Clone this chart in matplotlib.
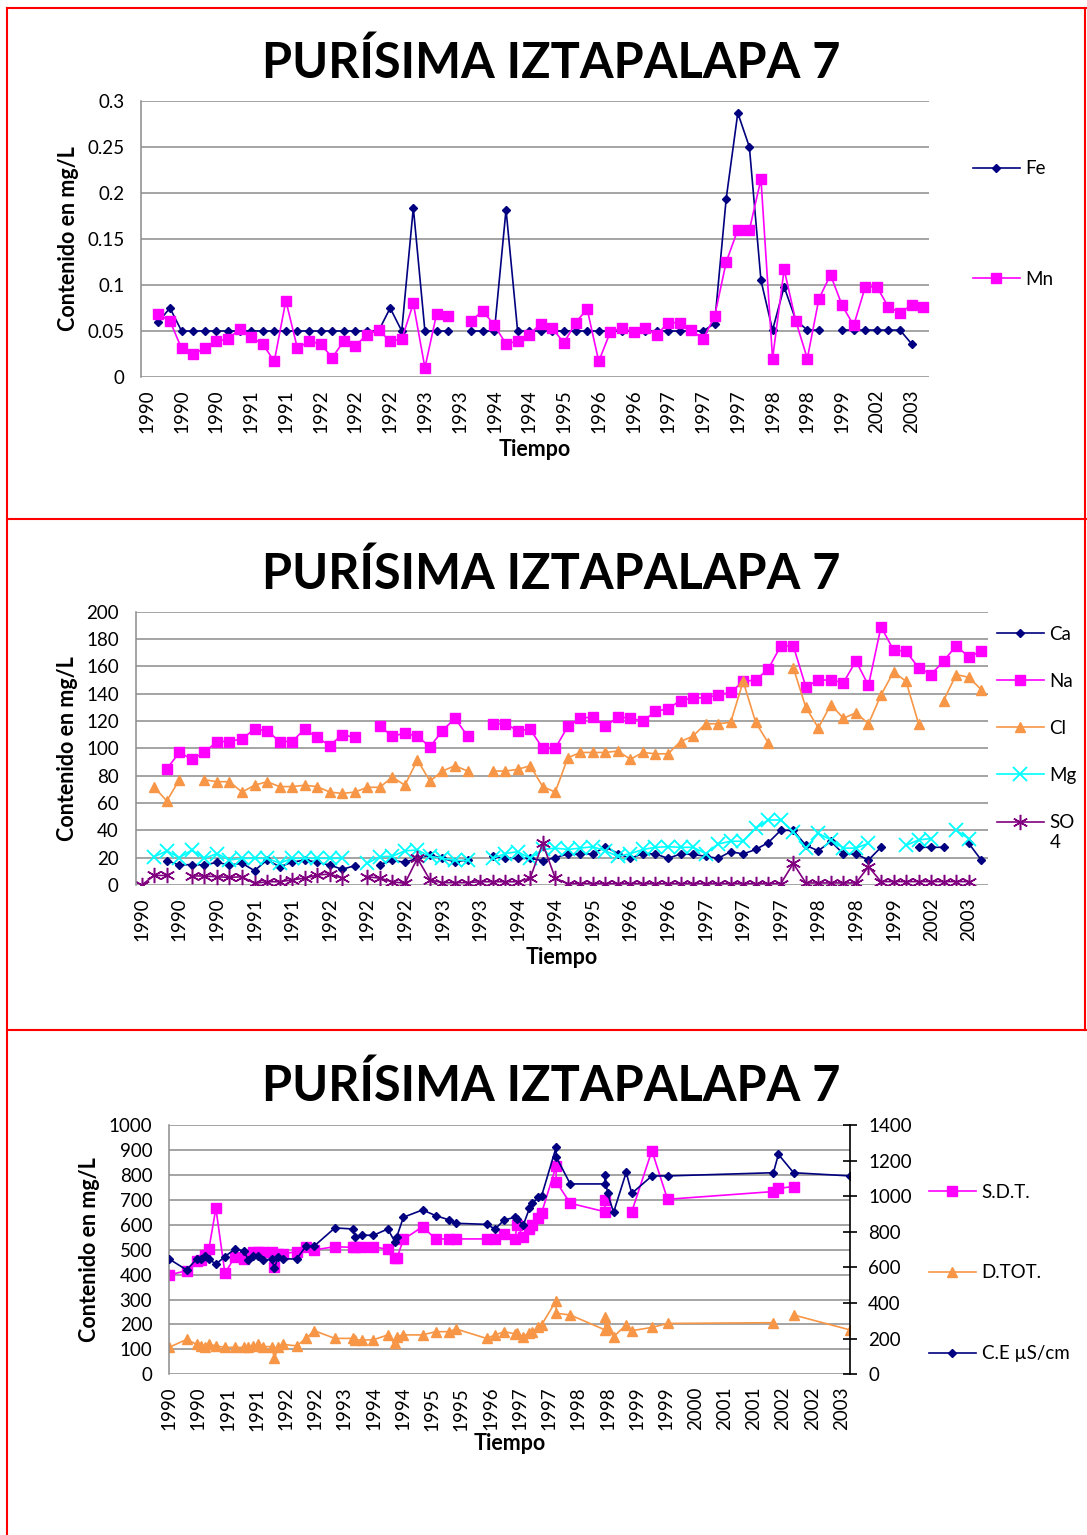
import numpy as np
import matplotlib.pyplot as plt
from matplotlib.lines import Line2D
from matplotlib.legend_handler import HandlerLine2D
from matplotlib.ticker import MultipleLocator, FuncFormatter

plt.rcParams['font.family'] = ['Lato', 'DejaVu Sans']

nan = np.nan
TITLE = 'PURÍSIMA IZTAPALAPA 7'

# ---- upper two charts: 68 sampling campaigns on a category axis ----
tick_years = ['1990', '1990', '1990', '1991', '1991', '1992', '1992', '1992',
              '1993', '1993', '1994', '1994', '1995', '1996', '1996', '1997',
              '1997', '1997', '1998', '1998', '1999', '2002', '2003']

fe = [nan, 0.06, 0.075, 0.05, 0.05, 0.05, 0.05, 0.05, 0.05, 0.05,
      0.05, 0.05, 0.05, 0.05, 0.05, 0.05, 0.05, 0.05, 0.05, 0.05,
      0.05, 0.075, 0.05, 0.184, 0.05, 0.05, 0.05, nan, 0.05, 0.05,
      0.05, 0.182, 0.05, 0.05, 0.05, 0.05, 0.05, 0.05, 0.05, 0.05,
      0.05, 0.05, 0.05, 0.05, 0.05, 0.05, 0.05, 0.05, 0.05, 0.058,
      0.194, 0.287, 0.25, 0.105, 0.051, 0.098, 0.062, 0.051, 0.051, nan,
      0.051, 0.051, 0.051, 0.051, 0.051, 0.051, 0.036, nan]
mn = [nan, 0.068, 0.061, 0.031, 0.025, 0.031, 0.039, 0.041, 0.052, 0.043,
      0.036, 0.017, 0.083, 0.031, 0.039, 0.036, 0.021, 0.039, 0.034, 0.046,
      0.051, 0.039, 0.041, 0.08, 0.01, 0.068, 0.066, nan, 0.061, 0.072,
      0.056, 0.036, 0.039, 0.046, 0.058, 0.053, 0.037, 0.059, 0.074, 0.017,
      0.049, 0.053, 0.049, 0.053, 0.046, 0.059, 0.059, 0.051, 0.041, 0.066,
      0.125, 0.16, 0.16, 0.215, 0.02, 0.117, 0.061, 0.02, 0.085, 0.111,
      0.078, 0.056, 0.098, 0.098, 0.076, 0.07, 0.078, 0.076]

ca = [nan, nan, 17.8, 14.6, 15, 14.6, 16.6, 14.6, 15.9, 10.5,
      18.3, 13.4, 16.6, 18.3, 16.6, 14.6, 11.5, 14.1, nan, 15,
      18, 16.6, 19.5, 22, 19.5, 17, 18.3, nan, 21, 19.5,
      19.5, 19.5, 17.8, 20, 22.7, 22.7, 22.7, 28, 23, 19.5,
      23, 22.7, 19.5, 22.7, 22.4, 21, 19.5, 24.4, 22.7, 26,
      31, 40, 40, 29, 25, 32, 22.7, 22.7, 18.3, 27.6,
      nan, nan, 27.6, 27.6, 27.6, nan, 30.5, 18.3]
na = [nan, nan, 85, 97, 92, 97, 105, 105, 107, 114,
      113, 105, 105, 114, 108, 102, 110, 108, nan, 116,
      109, 111, 109, 101, 113, 122, 109, nan, 118, 118,
      113, 114, 100, 100, 116, 122, 123, 116, 123, 122,
      120, 127, 129, 135, 137, 137, 139, 141, 149, 150,
      158, 175, 175, 145, 150, 150, 148, 164, 146, 189,
      172, 171, 159, 154, 164, 175, 167, 171]
cl = [nan, 71.5, 61.5, 77, nan, 77, 75.6, 75.6, 68, 73,
      75.6, 72, 72, 73, 72, 68, 67, 68, 71.5, 71.5,
      79, 73, 91.5, 76, 83.4, 87.3, 83.4, nan, 83.4, 83.4,
      84.6, 87.3, 72, 68, 93, 97, 97, 97, 98, 92,
      97, 96, 96, 105, 109, 118, 118, 119, 149, 119,
      104, nan, 159, 130, 115, 132, 122, 126, 118, 139,
      156, 149, 118, nan, 135, 154, 152, 143]
mg = [nan, 20.7, 25, 20, 25.6, 19.5, 23, 18.3, 19.5, 19.5,
      19.5, 16, 19.5, 19.5, 19.5, 19.5, 19.5, nan, 16, 20.7,
      21, 25, 25.6, 21, 19.5, 18, 18, nan, 19.5, 23,
      24.4, 19.5, 26, 27, 26, 27, 28, 25, 21, 23,
      26, 27.6, 28, 27.6, 27.6, 23, 30, 32, 32, 41.5,
      47.6, 47.6, 39, 27, 37.8, 33, 27, 27, 30.5, nan,
      nan, 29, 33, 34, nan, 40, 34, nan]
so4 = [0, 7, 7, nan, 6.6, 6.6, 6, 5.6, 6, 1.2,
       2.4, 2.4, 3.7, 5, 7.3, 8, 5, nan, 6, 5,
       2.4, 1.2, 19.5, 3.7, 1.7, 1.7, 1.7, 2.4, 2.4, 2.4,
       2.4, 5, 30.5, 5, 1, 1, 1, 1, 1, 1,
       1, 1, 1, 1, 1, 1, 1, 1, 1, 1,
       1, 1, 15.8, 1.5, 1.5, 1.5, 1.5, 1.5, 13.4, 2.5,
       2.5, 2.5, 2.5, 2.5, 2.5, 2.5, 2.5, nan]

# ---- lower chart: dated samples (decimal years) ----
dates = [1990.07, 1990.42, 1990.62, 1990.70, 1990.78, 1990.86, 1991.00, 1991.18,
         1991.38, 1991.56, 1991.64, 1991.74, 1991.84, 1991.94, 1992.11, 1992.16,
         1992.24, 1992.34, 1992.60, 1992.79, 1992.95, 1993.36, 1993.73, 1993.76,
         1993.89, 1994.12, 1994.41, 1994.55, 1994.59, 1994.72, 1995.10, 1995.36,
         1995.63, 1995.76, 1996.37, 1996.54, 1996.72, 1996.94, 1996.97, 1997.10,
         1997.22, 1997.28, 1997.40, 1997.46, 1997.75, 1997.75, 1998.03, 1998.72,
         1998.72, 1998.77, 1998.89, 1999.14, 1999.25, 1999.65, 1999.96, 2002.06,
         2002.16, 2002.46, 2003.58]
ce = [648, 586, 648, 648, 666, 648, 618, 661,
      704, 693, 642, 666, 666, 642, 646, 595,
      661, 648, 648, 720, 720, 822, 816, 773,
      782, 780, 816, 745, 773, 882, 923, 891,
      867, 848, 842, 816, 867, 882, 870, 839,
      932, 960, 994, 1000, 1275, 1222, 1069, 1069,
      1119, 1016, 910, 1134, 1016, 1114, 1114, 1132,
      1235, 1132, 1114]
sdt = [398, 416, 455, 459, 480, 501, 666, 405,
       472, 462, 480, 492, 492, 492, 492, 432,
       483, 483, 492, 512, 499, 512, 509, 512,
       512, 512, 501, 465, 465, 541, 592, 543,
       543, 543, 543, 543, 563, 543, 599, 552,
       583, 600, 626, 646, 836, 773, 686, 652,
       699, nan, nan, nan, 652, 897, 702, 733,
       746, 753, nan]
dtot = [108, 140, 120, 115, 110, 120, 114, 108,
        108, 108, 110, 114, 120, 111, 111, 64,
        111, 120, 114, 144, 175, 144, 144, 138,
        138, 138, 158, 124, 151, 158, 158, 171,
        171, 182, 144, 158, 171, 162, 165, 151,
        167, 171, 191, 198, 295, 245, 238, 178,
        231, 184, 151, 198, 175, 188, 204, 207,
        nan, 238, 178]

NAVY = '#000080'
MAGENTA = '#FF00FF'
ORANGE = '#F79646'
CYAN = '#00FFFF'
PURPLE = '#800080'
GRID = '#8c8c8c'
TICK_FS = 13.5
LAB_FS = 15.5
LEG_FS = 13.5

W, H = 1087, 1535
fig = plt.figure(figsize=(W / 100, H / 100), dpi=100)


class FirstLineHandler(HandlerLine2D):
    # put the legend sample level with the first line of a wrapped label
    def create_artists(self, legend, orig_handle, xdescent, ydescent,
                       width, height, fontsize, trans):
        return super().create_artists(legend, orig_handle, xdescent,
                                      ydescent - 1.2 * fontsize, width,
                                      height, fontsize, trans)


def box(x0, y0, x1, y1):
    # pixel box (top-left origin) -> figure fraction rect
    return [x0 / W, 1 - y1 / H, (x1 - x0) / W, (y1 - y0) / H]


def style_axes(ax):
    ax.grid(axis='y', color=GRID, lw=1.1)
    ax.set_axisbelow(True)
    for s in ('top', 'right', 'bottom'):
        ax.spines[s].set_visible(False)
    ax.spines['left'].set_color(GRID)
    ax.spines['left'].set_linewidth(1.1)
    ax.tick_params(axis='both', length=0, labelsize=TICK_FS)
    ax.tick_params(axis='y', pad=12)
    ax.tick_params(axis='x', pad=9)


cats = np.arange(1, len(fe) + 1)
tick_pos = cats[::3]

# ---- chart 1: Fe, Mn ----
ax1 = fig.add_axes(box(141, 101, 929, 377))
ax1.plot(cats, fe, color=NAVY, lw=1.2, marker='D', ms=4, label='Fe')
ax1.plot(cats, mn, color=MAGENTA, lw=1.2, marker='s', ms=6.5, label='Mn')
ax1.set_xlim(0.5, len(cats) + 0.5)
ax1.set_ylim(0, 0.3)
ax1.yaxis.set_major_locator(MultipleLocator(0.05))
ax1.yaxis.set_major_formatter(FuncFormatter(lambda v, p: f'{v:g}'))
ax1.set_xticks(tick_pos)
ax1.set_xticklabels(tick_years, rotation=90)
style_axes(ax1)
ax1.set_ylabel('Contenido en mg/L', fontsize=LAB_FS, fontweight='bold', labelpad=6)
ax1.set_xlabel('Tiempo', fontsize=LAB_FS, fontweight='bold', labelpad=4)
ax1.legend(loc='center left', bbox_to_anchor=(973 / W, 1 - 224 / H),
           bbox_transform=fig.transFigure, frameon=False, fontsize=LEG_FS,
           handlelength=2.5, handletextpad=0.3, labelspacing=5.0,
           borderpad=0, borderaxespad=0)

# ---- chart 2: major ions ----
ax2 = fig.add_axes(box(135.5, 611.7, 987.5, 885))
ax2.plot(cats, ca, color=NAVY, lw=1.2, marker='D', ms=4, label='Ca')
ax2.plot(cats, na, color=MAGENTA, lw=1.2, marker='s', ms=6.5, label='Na')
ax2.plot(cats, cl, color=ORANGE, lw=1.2, marker='^', ms=6.5, label='Cl')
ax2.plot(cats, mg, color=CYAN, lw=1.2, marker='x', ms=10, mew=1.3, label='Mg')
so4_line, = ax2.plot(cats, so4, color=PURPLE, lw=1.2, marker=(6, 2, 0), ms=11,
                     mew=1.1, label='SO\n4')
ax2.set_xlim(0.5, len(cats) + 0.5)
ax2.set_ylim(0, 200)
ax2.yaxis.set_major_locator(MultipleLocator(20))
ax2.set_xticks(tick_pos)
ax2.set_xticklabels(tick_years, rotation=90)
style_axes(ax2)
ax2.set_ylabel('Contenido en mg/L', fontsize=LAB_FS, fontweight='bold', labelpad=6)
ax2.set_xlabel('Tiempo', fontsize=LAB_FS, fontweight='bold', labelpad=4)
ax2.legend(loc='upper left', bbox_to_anchor=(997 / W, 1 - 626 / H),
           bbox_transform=fig.transFigure, frameon=False, fontsize=LEG_FS,
           handlelength=2.5, handletextpad=0.3, labelspacing=1.6,
           borderpad=0, borderaxespad=0,
           handler_map={so4_line: FirstLineHandler()})

# ---- chart 3: TDS, hardness, conductivity ----
x0, step = 1990.07, 0.58
ax3 = fig.add_axes(box(169, 1125, 850, 1374.3))
l_sdt, = ax3.plot(dates, sdt, color=MAGENTA, lw=1.2, marker='s', ms=6.5,
                  label='S.D.T.')
l_dt, = ax3.plot(dates, dtot, color=ORANGE, lw=1.2, marker='^', ms=6.5,
                 label='D.TOT.')
ax3.set_xlim(x0, dates[-1])
ax3.set_ylim(0, 1000)
ax3.yaxis.set_major_locator(MultipleLocator(100))
ax3.set_xticks([x0 + step * i for i in range(24)])
ax3.xaxis.set_major_formatter(FuncFormatter(lambda v, p: f'{int(v + 1e-6)}'))
style_axes(ax3)
ax3.tick_params(axis='x', labelrotation=90)
ax3.set_ylabel('Contenido en mg/L', fontsize=LAB_FS, fontweight='bold', labelpad=6)
ax3.set_xlabel('Tiempo', fontsize=LAB_FS, fontweight='bold', labelpad=2)

ax3r = ax3.twinx()
l_ce, = ax3r.plot(dates, ce, color=NAVY, lw=1.2, marker='D', ms=4,
                  label='C.E µS/cm')
ax3r.set_ylim(0, 1400)
ax3r.yaxis.set_major_locator(MultipleLocator(200))
for s in ('top', 'left', 'bottom'):
    ax3r.spines[s].set_visible(False)
ax3r.spines['right'].set_color('black')
ax3r.spines['right'].set_linewidth(1.2)
ax3r.tick_params(axis='y', direction='inout', length=10, width=1.2,
                 labelsize=TICK_FS, pad=8)
ax3r.legend(handles=[l_sdt, l_dt, l_ce], loc='center left',
            bbox_to_anchor=(929 / W, 1 - 1273 / H),
            bbox_transform=fig.transFigure, frameon=False, fontsize=LEG_FS,
            handlelength=2.5, handletextpad=0.3, labelspacing=3.4,
            borderpad=0, borderaxespad=0)

# ---- titles and red frame ----
for ty in (63, 574, 1086):
    fig.text(551 / W, 1 - ty / H, TITLE, ha='center', va='center',
             fontsize=35, fontweight='bold')

red = dict(color='#FF0000', lw=1.5, transform=fig.transFigure)
fig.add_artist(Line2D([7 / W, 1], [1 - 8 / H, 1 - 8 / H], **red))
fig.add_artist(Line2D([7 / W, 7 / W], [0, 1 - 8 / H], **red))
fig.add_artist(Line2D([1085 / W, 1085 / W], [1 - 1030 / H, 1 - 8 / H], **red))
for sy in (519, 1030):
    fig.add_artist(Line2D([7 / W, 1], [1 - sy / H, 1 - sy / H], **red))

fig.savefig('out.png', dpi=100)
